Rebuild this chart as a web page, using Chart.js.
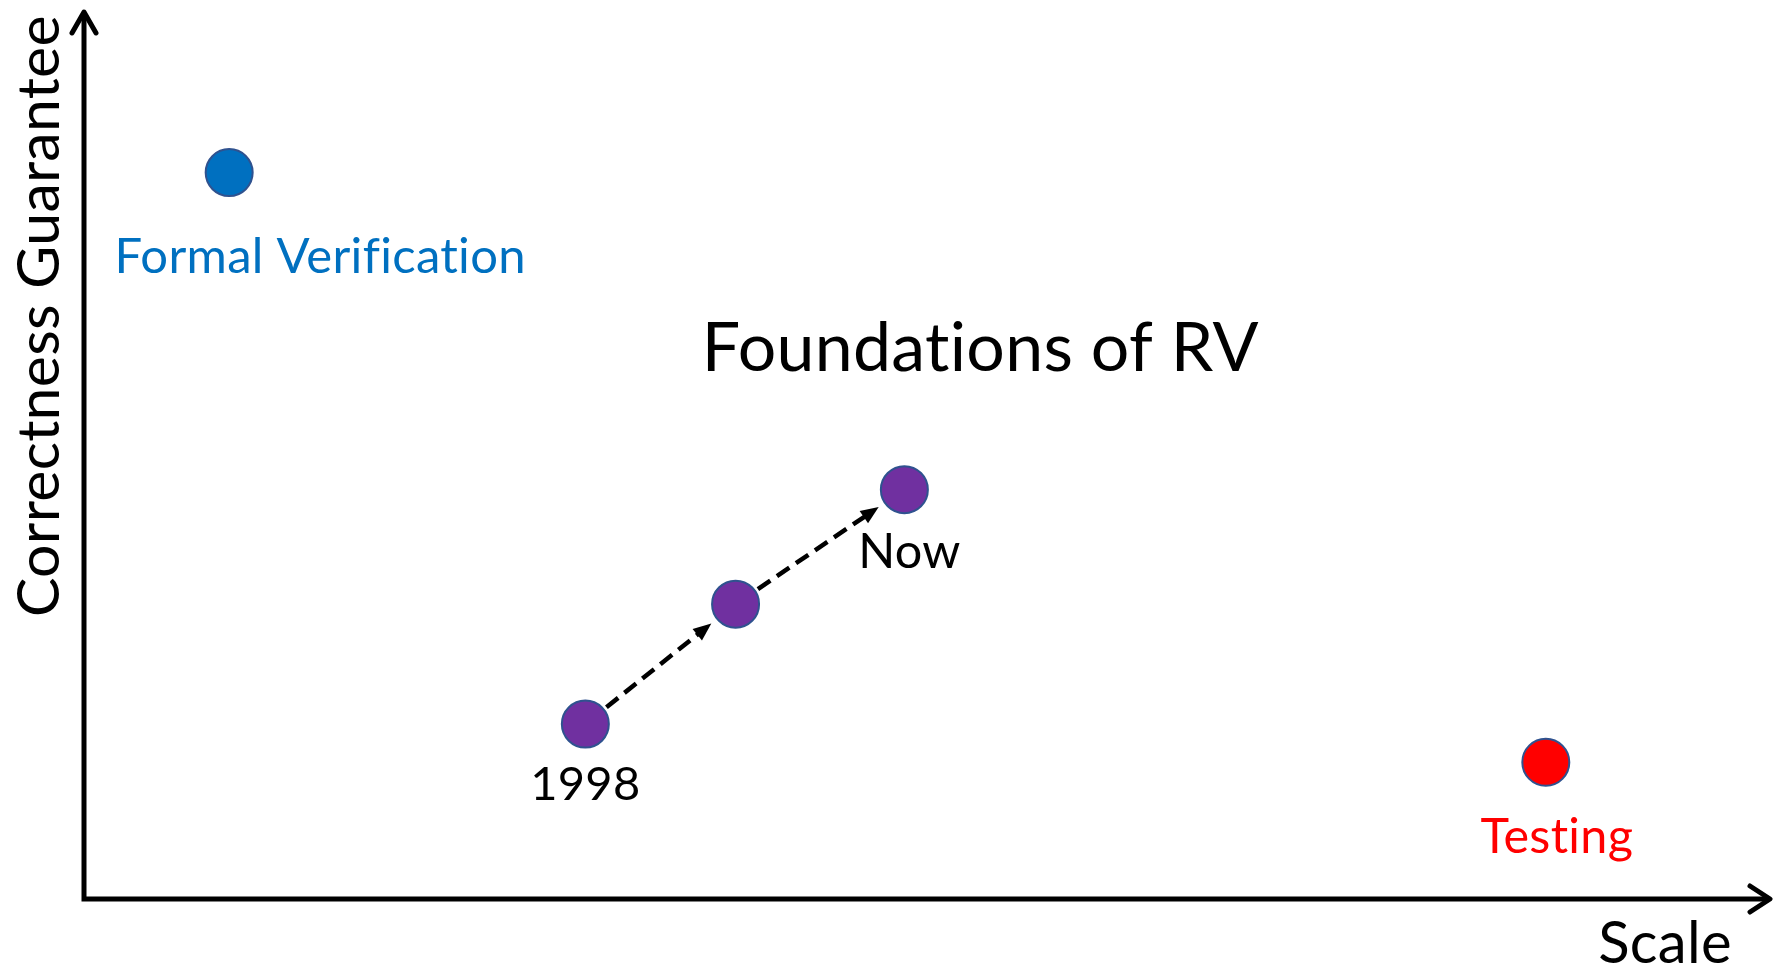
<!DOCTYPE html>
<html>
<head>
<meta charset="utf-8">
<title>Foundations of RV</title>
<script src="https://cdn.jsdelivr.net/npm/chart.js@4.4.1/dist/chart.umd.min.js"></script>
<style>
  html, body { margin: 0; padding: 0; background: #fff; }
  #wrap { width: 1773px; height: 969px; position: relative; }
</style>
</head>
<body>
<div id="wrap"><canvas id="grafico"></canvas></div>
<script>
// Dados (os dois eixos vão de 0 a 100, sem unidade)
const formalX = [8.6];
const formalY = [81.8];
const rvX = [29.7, 38.6, 48.6];
const rvY = [19.7, 33.2, 46.1];
const rvLabels = ["1998", "", "Now"];
const testingX = [86.6];
const testingY = [15.4];
const seriesNames = ["Formal Verification", "Foundations of RV", "Testing"];
const xTitle = "Scale";
const yTitle = "Correctness Guarantee";

const FONTE = "Lato, 'Open Sans', sans-serif";
const CONTORNO = "#2F528F";

function pontos(xs, ys) {
    return xs.map((x, i) => ({ x: x, y: ys[i] }));
}

// Eixos com setas
const eixosPlugin = {
    id: "eixos",
    afterDatasetsDraw(chart) {
        const ctx = chart.ctx;
        const a = chart.chartArea;
        const x0 = a.left, y0 = a.bottom;
        ctx.save();
        ctx.strokeStyle = "#000";
        ctx.lineWidth = 5;
        ctx.lineJoin = "miter";
        ctx.lineCap = "butt";
        ctx.beginPath();
        ctx.moveTo(x0, a.top + 2);
        ctx.lineTo(x0, y0);
        ctx.lineTo(a.right - 2, y0);
        ctx.stroke();

        // pontas das setas (abertas)
        ctx.lineCap = "round";
        ctx.lineJoin = "round";
        ctx.beginPath();
        ctx.moveTo(x0 - 12, a.top + 22);
        ctx.lineTo(x0, a.top + 1);
        ctx.lineTo(x0 + 12, a.top + 22);
        ctx.moveTo(a.right - 22, y0 - 13);
        ctx.lineTo(a.right - 2, y0);
        ctx.lineTo(a.right - 22, y0 + 13);
        ctx.stroke();
        ctx.restore();
    }
};

// Setas tracejadas entre os pontos de RV
const setasPlugin = {
    id: "setas",
    beforeDatasetsDraw(chart) {
        const ctx = chart.ctx;
        const meta = chart.getDatasetMeta(1);
        ctx.save();
        for (let i = 0; i < meta.data.length - 1; i++) {
            const p = meta.data[i], q = meta.data[i + 1];
            const dx = q.x - p.x, dy = q.y - p.y;
            const d = Math.sqrt(dx * dx + dy * dy);
            const ux = dx / d, uy = dy / d;
            const sx = p.x + ux * 27, sy = p.y + uy * 27;
            const ex = q.x - ux * 31, ey = q.y - uy * 31;
            const hl = 18, hw = 7.5;
            ctx.strokeStyle = "#000";
            ctx.lineWidth = 4.5;
            ctx.setLineDash([15, 8]);
            ctx.beginPath();
            ctx.moveTo(sx, sy);
            ctx.lineTo(ex - ux * (hl - 2), ey - uy * (hl - 2));
            ctx.stroke();
            ctx.setLineDash([]);
            ctx.fillStyle = "#000";
            ctx.beginPath();
            ctx.moveTo(ex, ey);
            ctx.lineTo(ex - ux * hl - uy * hw, ey - uy * hl + ux * hw);
            ctx.lineTo(ex - ux * hl + uy * hw, ey - uy * hl - ux * hw);
            ctx.closePath();
            ctx.fill();
        }
        ctx.restore();
    }
};

// Textos: rótulos dos pontos, título central e títulos dos eixos
const textosPlugin = {
    id: "textos",
    afterDraw(chart) {
        const ctx = chart.ctx;
        const xs = chart.scales.x, ys = chart.scales.y;
        const a = chart.chartArea;
        ctx.save();
        ctx.textBaseline = "alphabetic";
        ctx.textAlign = "center";
        // espaçamento mínimo só para evitar a ligadura "ti" da Lato
        ctx.letterSpacing = "0.3px";

        // Formal Verification
        const fv = chart.getDatasetMeta(0).data[0];
        ctx.fillStyle = "#0070C0";
        ctx.font = "49px " + FONTE;
        ctx.fillText(seriesNames[0], fv.x + 91, fv.y + 100);

        // 1998 / Now
        const rv = chart.getDatasetMeta(1).data;
        ctx.fillStyle = "#000";
        ctx.font = "47px " + FONTE;
        ctx.fillText(rvLabels[0], rv[0].x, rv[0].y + 76);
        ctx.font = "48.5px " + FONTE;
        ctx.fillText(rvLabels[2], rv[2].x + 5, rv[2].y + 78);

        // Testing
        const te = chart.getDatasetMeta(2).data[0];
        ctx.fillStyle = "#FF0000";
        ctx.font = "48.5px " + FONTE;
        ctx.fillText(seriesNames[2], te.x + 11, te.y + 91);

        // Título central
        ctx.fillStyle = "#000";
        ctx.font = "68px " + FONTE;
        ctx.fillText(seriesNames[1], xs.getPixelForValue(53.1), ys.getPixelForValue(59.5));

        // Título do eixo x
        ctx.font = "58px " + FONTE;
        ctx.fillText(xTitle, 1665, a.bottom + 64);

        // Título do eixo y (girado)
        ctx.font = "59px " + FONTE;
        ctx.translate(59, 316);
        ctx.rotate(-Math.PI / 2);
        ctx.fillText(yTitle, 0, 0);
        ctx.restore();
    }
};

new Chart(document.getElementById("grafico"), {
    type: "scatter",
    data: {
        datasets: [{
            label: seriesNames[0],
            data: pontos(formalX, formalY),
            backgroundColor: "#0070C0",
            borderColor: CONTORNO
        }, {
            label: seriesNames[1],
            data: pontos(rvX, rvY),
            backgroundColor: "#7030A0",
            borderColor: CONTORNO
        }, {
            label: seriesNames[2],
            data: pontos(testingX, testingY),
            backgroundColor: "#FF0000",
            borderColor: CONTORNO
        }]
    },
    options: {
        responsive: true,
        maintainAspectRatio: false,
        animation: false,
        events: [],
        layout: { autoPadding: false, padding: { left: 84, right: 1, top: 11, bottom: 70 } },
        elements: { point: { radius: 23.5, borderWidth: 2, hoverRadius: 23.5 } },
        plugins: { legend: { display: false }, tooltip: { enabled: false } },
        scales: {
            x: { type: "linear", min: 0, max: 100, display: false },
            y: { type: "linear", min: 0, max: 100, display: false }
        }
    },
    plugins: [setasPlugin, eixosPlugin, textosPlugin]
});
</script>
</body>
</html>
